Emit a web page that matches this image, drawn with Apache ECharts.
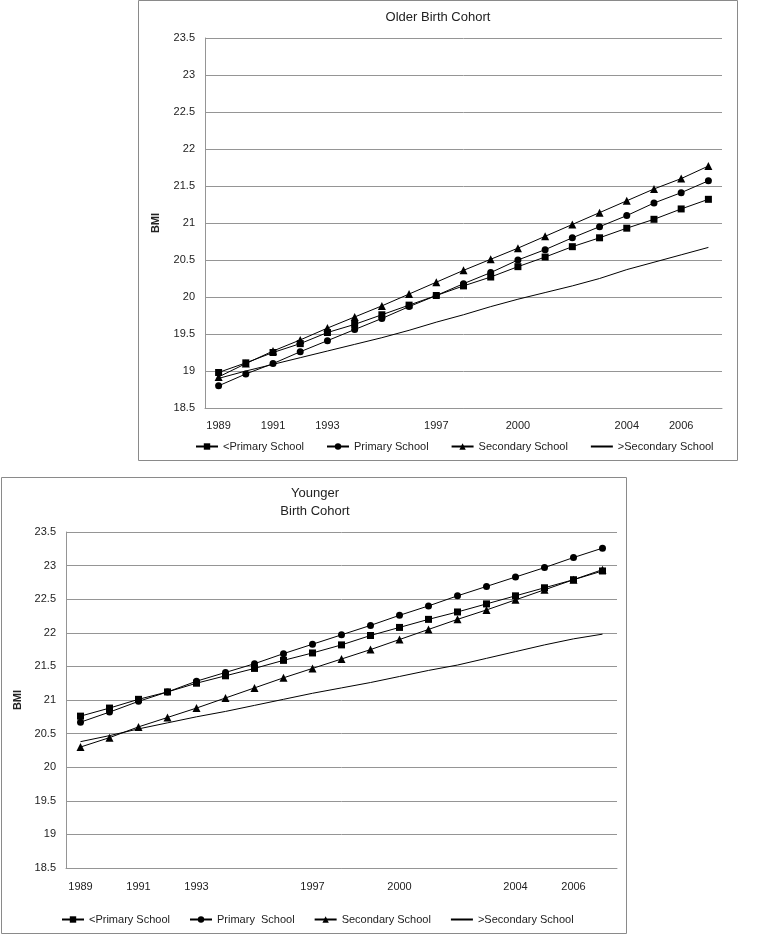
<!DOCTYPE html>
<html>
<head>
<meta charset="utf-8">
<script src="https://cdn.jsdelivr.net/npm/echarts/dist/echarts.min.js"></script>
<style>
html,body{margin:0;padding:0;background:#fff;}
#chart{width:766px;height:935px;}
</style>
</head>
<body>
<div id="chart"></div>
<script>
const years = ['1989','1990','1991','1992','1993','1994','1995','1996','1997','1998','1999','2000','2001','2002','2003','2004','2005','2006','2007'];
const labelYears = ['1989','1991','1993','1997','2000','2004','2006'];
const yTicks = { min: 18.5, max: 23.5, interval: 0.5 };

const olderLessPrimary   = [18.98,19.11,19.25,19.37,19.52,19.63,19.76,19.89,20.02,20.15,20.27,20.41,20.54,20.68,20.80,20.93,21.05,21.19,21.32];
const olderPrimary       = [18.80,18.96,19.10,19.26,19.41,19.56,19.71,19.87,20.02,20.18,20.33,20.50,20.64,20.80,20.95,21.10,21.27,21.41,21.57];
const olderSecondary     = [18.92,19.10,19.27,19.42,19.58,19.73,19.88,20.04,20.20,20.36,20.51,20.66,20.82,20.98,21.14,21.30,21.46,21.60,21.77];
const olderMoreSecondary = [18.90,19.00,19.09,19.18,19.27,19.36,19.45,19.55,19.66,19.76,19.87,19.97,20.06,20.15,20.25,20.37,20.47,20.57,20.67];

const youngerLessPrimary   = [20.76,20.88,21.01,21.12,21.25,21.36,21.47,21.59,21.70,21.82,21.96,22.08,22.20,22.31,22.43,22.55,22.67,22.79,22.92];
const youngerPrimary       = [20.67,20.82,20.98,21.12,21.28,21.41,21.54,21.69,21.83,21.97,22.11,22.26,22.40,22.55,22.69,22.83,22.97,23.12,23.26];
const youngerSecondary     = [20.30,20.44,20.60,20.74,20.88,21.03,21.18,21.33,21.47,21.61,21.75,21.90,22.05,22.20,22.34,22.49,22.64,22.79,22.94];
const youngerMoreSecondary = [20.38,20.47,20.57,20.66,20.75,20.83,20.92,21.01,21.10,21.18,21.26,21.35,21.44,21.52,21.62,21.72,21.82,21.91,21.98];

const olderNames   = ['<Primary School','Primary School','Secondary School','>Secondary School'];
const youngerNames = ['<Primary School','Primary  School','Secondary School','>Secondary School'];
const symbols = ['rect','circle','triangle','none'];
const symbolSizes = [7,7,8,0];

const FONT = "'Liberation Sans', Arial, sans-serif";
const gridColor = '#959595';

function xAxis(gridIndex, margin) {
  return {
    type: 'category', gridIndex: gridIndex, data: years,
    axisTick: { show: false },
    axisLine: { lineStyle: { color: gridColor, width: 1 } },
    axisLabel: {
      interval: function (i, v) { return labelYears.indexOf(v) >= 0; },
      color: '#222', fontSize: 11, fontFamily: FONT, margin: margin
    },
    splitLine: { show: false }
  };
}
function yAxis(gridIndex, gap) {
  return {
    type: 'value', gridIndex: gridIndex,
    min: yTicks.min, max: yTicks.max, interval: yTicks.interval,
    name: 'BMI', nameLocation: 'middle', nameGap: gap,
    nameTextStyle: { fontWeight: 'bold', fontSize: 11, color: '#222', fontFamily: FONT },
    axisLine: { show: true, lineStyle: { color: gridColor, width: 1 } },
    axisTick: { show: false },
    axisLabel: { color: '#222', fontSize: 11, fontFamily: FONT, margin: 10 },
    splitLine: { lineStyle: { color: gridColor, width: 1 } }
  };
}
function makeSeries(names, datasets, idx) {
  return names.map(function (n, i) {
    return {
      name: n, type: 'line', xAxisIndex: idx, yAxisIndex: idx,
      data: datasets[i],
      symbol: symbols[i], symbolSize: symbolSizes[i], showSymbol: symbols[i] !== 'none',
      lineStyle: { color: '#000', width: 1 },
      itemStyle: { color: '#000' },
      animation: false
    };
  });
}
function legendData(names) {
  return names.map(function (n, i) {
    return symbols[i] === 'none' ? { name: n, itemStyle: { opacity: 0 } } : { name: n };
  });
}

const chart = echarts.init(document.getElementById('chart'));
chart.setOption({
  animation: false,
  backgroundColor: '#fff',
  graphic: [
    { type: 'rect', silent: true, z: -10, shape: { x: 138.5, y: 0.5, width: 599, height: 460 }, style: { fill: 'none', stroke: '#8a8a8a', lineWidth: 1 } },
    { type: 'rect', silent: true, z: -10, shape: { x: 1.5, y: 477.5, width: 625, height: 456 }, style: { fill: 'none', stroke: '#8a8a8a', lineWidth: 1 } }
  ],
  title: [
    { text: 'Older Birth Cohort', left: 438, top: 8, textAlign: 'center', padding: 0,
      textStyle: { fontSize: 13, fontWeight: 'normal', color: '#222', fontFamily: FONT, lineHeight: 18 } },
    { text: 'Younger\nBirth Cohort', left: 315, top: 484, textAlign: 'center', padding: 0,
      textStyle: { fontSize: 13, fontWeight: 'normal', color: '#222', fontFamily: FONT, lineHeight: 18.5 } }
  ],
  legend: [
    { data: legendData(olderNames), left: 195, top: 441, itemWidth: 22, itemHeight: 8, itemGap: 22, padding: 0,
      textStyle: { fontSize: 11, color: '#222', fontFamily: FONT } },
    { data: legendData(youngerNames), left: 61, top: 914, itemWidth: 22, itemHeight: 8, itemGap: 19, padding: 0,
      textStyle: { fontSize: 11, color: '#222', fontFamily: FONT } }
  ],
  grid: [
    { left: 205, top: 38, width: 517, height: 370 },
    { left: 66, top: 532, width: 551, height: 336 }
  ],
  xAxis: [ xAxis(0, 12), xAxis(1, 13) ],
  yAxis: [ yAxis(0, 44), yAxis(1, 43) ],
  series: [].concat(
    makeSeries(olderNames, [olderLessPrimary, olderPrimary, olderSecondary, olderMoreSecondary], 0),
    makeSeries(youngerNames, [youngerLessPrimary, youngerPrimary, youngerSecondary, youngerMoreSecondary], 1)
  )
});
</script>
</body>
</html>
